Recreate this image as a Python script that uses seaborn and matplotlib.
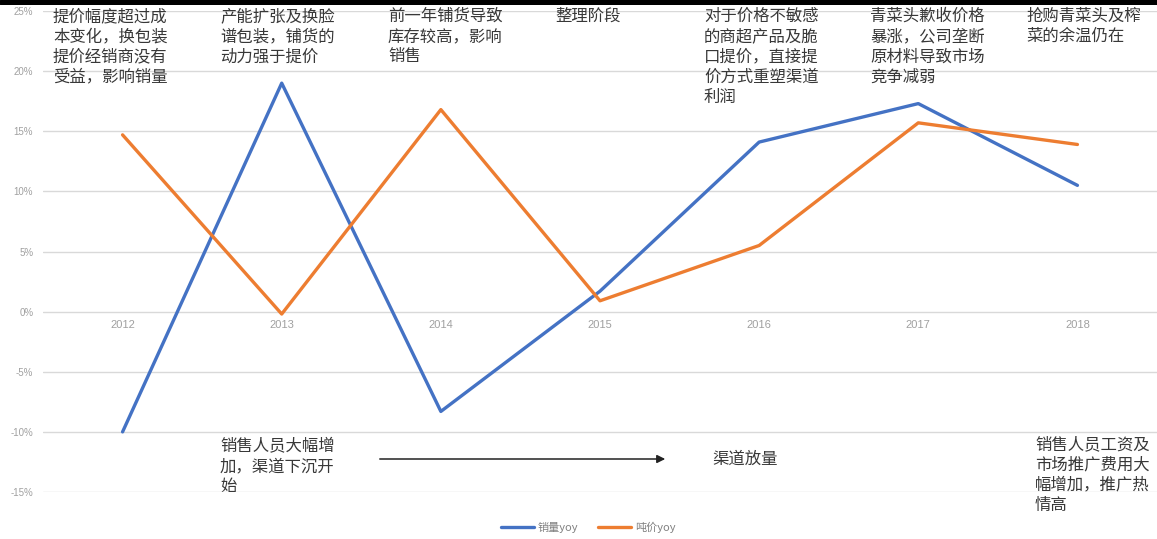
import matplotlib
matplotlib.use("Agg")
import matplotlib.pyplot as plt
from matplotlib.lines import Line2D
from matplotlib.patches import FancyArrowPatch
import seaborn as sns
import pandas as pd

# Year-over-year growth (%) of sales volume and price per ton
years = ["2012", "2013", "2014", "2015", "2016", "2017", "2018"]
volume_yoy = [-10.0, 19.0, -8.3, 1.7, 14.1, 17.3, 10.5]
price_yoy = [14.7, -0.2, 16.8, 0.9, 5.5, 15.7, 13.9]
series_names = ["销量yoy", "吨价yoy"]
y_ticks = [-15, -10, -5, 0, 5, 10, 15, 20, 25]

top_notes = [
    "提价幅度超过成\n本变化，换包装\n提价经销商没有\n受益，影响销量",
    "产能扩张及换脸\n谱包装，铺货的\n动力强于提价",
    "前一年铺货导致\n库存较高，影响\n销售",
    "整理阶段",
    "对于价格不敏感\n的商超产品及脆\n口提价，直接提\n价方式重塑渠道\n利润",
    "青菜头歉收价格\n暴涨，公司垄断\n原材料导致市场\n竞争减弱",
    "抢购青菜头及榨\n菜的余温仍在",
]
top_note_x = [53, 220, 388, 555, 704, 870, 1026]
bottom_notes = [
    ("销售人员大幅增\n加，渠道下沉开\n始", 220, 438),
    ("销售人员工资及\n市场推广费用大\n幅增加，推广热\n情高", 1035, 436),
]

sns.set_theme(style="white")
plt.rcParams["font.family"] = ["Noto Sans CJK SC", "DejaVu Sans"]

df = pd.DataFrame({
    "year": years * 2,
    "value": volume_yoy + price_yoy,
    "series": [series_names[0]] * len(years) + [series_names[1]] * len(years),
})

W, H = 1157, 539
fig = plt.figure(figsize=(W / 100, H / 100), dpi=100)
ax = fig.add_axes([43 / W, (H - 492) / H, (W - 43) / W, (492 - 11) / H])

palette = {series_names[0]: "#4472C4", series_names[1]: "#ED7D31"}
sns.lineplot(data=df, x="year", y="value", hue="series", palette=palette,
             linewidth=2.4, ax=ax, legend=False, sort=False)

ax.set_xlim(-0.5, len(years) - 0.5)
ax.set_ylim(-15, 25)
ax.set_yticks(y_ticks)
ax.set_yticklabels([f"{t}%" for t in y_ticks], fontsize=7, color="#a0a0a0",
                   family=["Liberation Sans", "DejaVu Sans"])
ax.yaxis.grid(True, color="#d9d9d9", linewidth=1.0)
ax.set_axisbelow(True)
for s in ax.spines.values():
    s.set_visible(False)
ax.spines["bottom"].set_position(("data", 0))
ax.tick_params(axis="both", length=0)
ax.tick_params(axis="x", pad=6, labelsize=8, labelcolor="#a0a0a0")
ax.tick_params(axis="y", pad=7)
for lab in ax.get_xticklabels():
    lab.set_family(["Liberation Sans", "DejaVu Sans"])
ax.set_xlabel("")
ax.set_ylabel("")

note_color = "#383838"
for txt, px in zip(top_notes, top_note_x):
    fig.text(px / W, 1 - 8 / H, txt, ha="left", va="top", fontsize=11.8,
             color=note_color, linespacing=1.25)
for txt, px, py in bottom_notes:
    fig.text(px / W, 1 - py / H, txt, ha="left", va="top", fontsize=11.8,
             color=note_color, linespacing=1.25)
fig.text(712 / W, 1 - 459 / H, "渠道放量", ha="left", va="center",
         fontsize=11.8, color=note_color)

fig.add_artist(FancyArrowPatch(
    (377 / W, 1 - 459 / H), (668 / W, 1 - 459 / H),
    transform=fig.transFigure, arrowstyle="-|>", mutation_scale=12,
    color="#222222", linewidth=1.1))

# Thick rule across the top edge
fig.add_artist(Line2D([0, 1], [1 - 2 / H, 1 - 2 / H], transform=fig.transFigure,
                      color="black", linewidth=3.6))

handles = [Line2D([], [], color=palette[n], linewidth=2.4) for n in series_names]
fig.legend(handles, series_names, loc="center", bbox_to_anchor=(588 / W, 1 - 527 / H),
           ncol=2, frameon=False, fontsize=8, labelcolor="#808080",
           handlelength=3.0, handletextpad=0.3, columnspacing=1.8)

fig.savefig("out.png", dpi=100)
